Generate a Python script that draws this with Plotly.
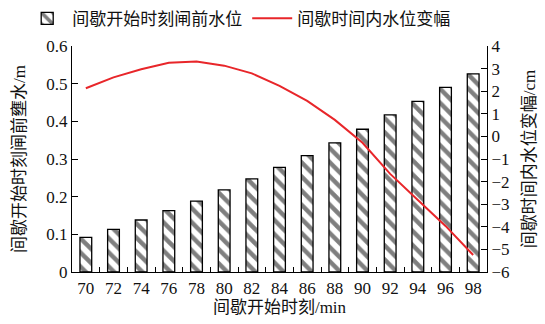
import plotly.graph_objects as go

minutes = [70, 72, 74, 76, 78, 80, 82, 84, 86, 88, 90, 92, 94, 96, 98]
head_level = [0.092, 0.113, 0.138, 0.163, 0.188, 0.218, 0.247, 0.278, 0.309,
              0.343, 0.379, 0.417, 0.453, 0.490, 0.526]
level_change = [2.13, 2.61, 2.97, 3.26, 3.31, 3.13, 2.79, 2.24, 1.57, 0.73,
                -0.28, -1.66, -2.81, -3.96, -5.25]
left_ticks = [0, 0.1, 0.2, 0.3, 0.4, 0.5, 0.6]
right_ticks = [4, 3, 2, 1, 0, -1, -2, -3, -4, -5, -6]

FONT = "Liberation Serif, Times New Roman, Noto Sans CJK SC, serif"

fig = go.Figure()
fig.add_trace(go.Bar(
    x=minutes, y=head_level, name="间歇开始时刻闸前水位",
    width=0.85,
    marker=dict(color="white", line=dict(color="black", width=1.3),
                pattern=dict(shape="\\", fgcolor="black", bgcolor="white",
                             size=10, solidity=0.45)),
    yaxis="y",
))
fig.add_trace(go.Scatter(
    x=minutes, y=level_change, name="间歇时间内水位变幅",
    mode="lines", line=dict(color="#e8262a", width=2),
    yaxis="y2",
))

fig.update_layout(
    width=545, height=324,
    margin=dict(l=72, r=58, t=46, b=52, autoexpand=False),
    plot_bgcolor="white", paper_bgcolor="white",
    font=dict(family=FONT, size=17, color="#111"),
    showlegend=True,
    legend=dict(orientation="h", x=-0.12, y=1.2, xanchor="left", yanchor="top",
                font=dict(size=17), traceorder="normal", itemwidth=40,
                bgcolor="rgba(0,0,0,0)"),
    xaxis=dict(
        range=[69, 99], tickvals=minutes, ticks="inside", ticklen=0,
        showline=True, linecolor="black", linewidth=1.2, mirror=False,
        showgrid=False, zeroline=False,
        minor=dict(tickvals=[m + 1 for m in minutes[:-1]], ticks="inside",
                   ticklen=5, tickcolor="black", showgrid=False),
        title=dict(text="间歇开始时刻/min", standoff=4, font=dict(size=17)),
        tickfont=dict(size=17),
    ),
    yaxis=dict(
        range=[0, 0.6], tickvals=left_ticks, ticktext=["0", "0.1", "0.2", "0.3", "0.4", "0.5", "0.6"],
        ticks="inside", ticklen=6, tickcolor="black",
        showline=True, linecolor="black", linewidth=1.2,
        showgrid=False, zeroline=False,
        title=dict(text="间歇开始时刻闸前壅水/m", standoff=16, font=dict(size=17)),
        tickfont=dict(size=17),
    ),
    yaxis2=dict(
        range=[-6, 4], tickvals=right_ticks, overlaying="y", side="right",
        ticks="inside", ticklen=6, tickcolor="black",
        showline=True, linecolor="black", linewidth=1.2,
        showgrid=False, zeroline=False,
        title=dict(text="间歇时间内水位变幅/cm", standoff=14, font=dict(size=17)),
        tickfont=dict(size=17),
    ),
)

fig.write_html("out.html")
